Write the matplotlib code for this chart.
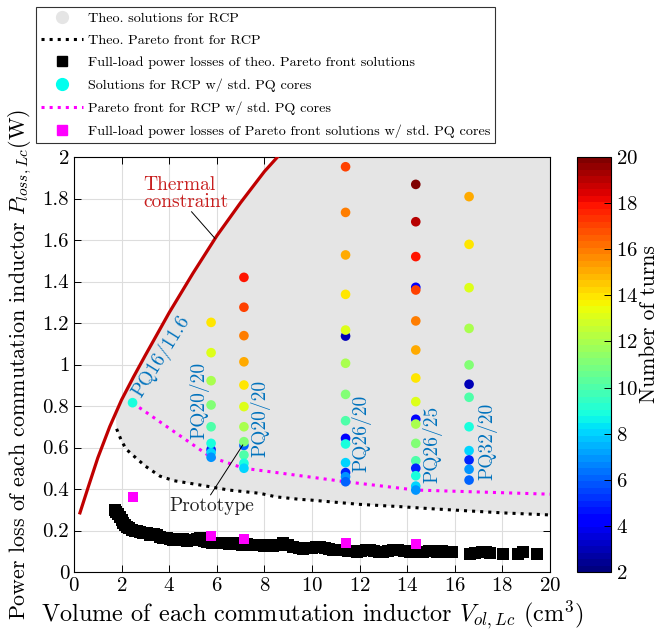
import numpy as np
import matplotlib
matplotlib.use('Agg')
import matplotlib.pyplot as plt
from matplotlib.lines import Line2D
from matplotlib.ticker import FuncFormatter

plt.rcParams['font.family'] = 'serif'
plt.rcParams['font.serif'] = ['cmr10']
plt.rcParams['mathtext.fontset'] = 'cm'
plt.rcParams['axes.formatter.use_mathtext'] = True

# thermal constraint (upper left limit)
thermal_vol = [0.25, 0.6, 1.0, 1.5, 2.0, 2.5, 3.0, 4.0, 5.0, 6.0, 7.0, 8.0, 8.55]
thermal_loss = [0.285, 0.41, 0.55, 0.70, 0.83, 0.94, 1.045, 1.25, 1.44, 1.62, 1.78, 1.93, 2.0]

# theoretical pareto front (lower edge of the solution cloud)
theo_front_vol = [1.79, 2.0, 2.21, 2.6, 3.0, 3.61, 4.2, 5.0, 5.71, 6.5, 7.5, 7.82,
                  8.5, 9.5, 9.92, 11.0, 12.0, 13.7, 15.0, 16.5, 18.0, 20.0]
theo_front_loss = [0.69, 0.63, 0.59, 0.55, 0.51, 0.462, 0.44, 0.425, 0.411, 0.395, 0.383, 0.379,
                   0.362, 0.35, 0.347, 0.336, 0.326, 0.315, 0.305, 0.295, 0.285, 0.275]

# upper-left edge of the cloud of theoretical solutions
cloud_top_vol = [20.0, 20.0, 8.55, 8.0, 7.0, 6.0, 5.0, 4.0, 3.0, 2.5, 2.0, 1.75]
cloud_top_loss = [0.275, 2.0, 2.0, 1.93, 1.78, 1.62, 1.44, 1.25, 1.045, 0.94, 0.83, 0.76]

# full-load losses of the theoretical pareto front solutions
full_vol = [1.72, 1.76, 1.85, 1.93, 2.0, 2.07, 2.15, 2.21, 2.3, 2.42, 2.55, 2.65, 2.77, 2.9,
            3.05, 3.2, 3.35, 3.47, 3.6, 3.75, 3.9, 4.05, 4.17, 4.3, 4.45, 4.59, 4.75, 4.9,
            5.01, 5.15, 5.29, 5.45, 5.6, 5.8, 5.95, 6.13, 6.3, 6.5, 6.69, 6.85, 7.05, 7.25,
            7.45, 7.62, 7.82, 8.0, 8.2, 8.37, 8.55, 8.79, 9.0, 9.21, 9.45, 9.64, 9.78, 10.0,
            10.15, 10.34, 10.55, 10.7, 10.9, 11.1, 11.3, 11.5, 11.7, 11.88, 12.05, 12.25,
            12.44, 12.6, 12.8, 13.0, 13.2, 13.4, 13.63, 13.85, 14.12, 14.3, 14.5, 14.68,
            14.9, 15.05, 15.24, 15.45, 15.65, 15.87, 16.64, 16.85, 17.13, 17.3, 17.48,
            18.04, 18.67, 18.88, 19.47]
full_loss = [0.30, 0.29, 0.28, 0.267, 0.25, 0.235, 0.225, 0.218, 0.21, 0.202, 0.20, 0.196,
             0.194, 0.19, 0.186, 0.18, 0.182, 0.178, 0.17, 0.162, 0.165, 0.158, 0.154, 0.16,
             0.155, 0.157, 0.15, 0.152, 0.154, 0.158, 0.162, 0.15, 0.145, 0.142, 0.14, 0.138,
             0.142, 0.136, 0.138, 0.135, 0.132, 0.134, 0.13, 0.128, 0.13, 0.126, 0.128, 0.127,
             0.132, 0.138, 0.128, 0.122, 0.118, 0.112, 0.114, 0.118, 0.12, 0.122, 0.115, 0.11,
             0.106, 0.108, 0.104, 0.102, 0.10, 0.098, 0.102, 0.104, 0.106, 0.10, 0.097, 0.098,
             0.10, 0.104, 0.106, 0.10, 0.098, 0.10, 0.097, 0.098, 0.10, 0.102, 0.098, 0.10,
             0.098, 0.098, 0.087, 0.09, 0.098, 0.095, 0.09, 0.087, 0.087, 0.095, 0.087]

# solutions with standard PQ cores
pq_vol = ([2.46]
          + [5.76] * 9
          + [7.14] * 12
          + [11.41] * 15
          + [14.36] * 17
          + [16.6] * 12)
pq_loss = [0.816,
           1.203, 1.057, 0.922, 0.805, 0.70, 0.59, 0.62, 0.575, 0.553,
           1.42, 1.276, 1.139, 1.013, 0.901, 0.797, 0.70, 0.61, 0.628, 0.564, 0.524, 0.50,
           1.953, 1.733, 1.528, 1.338, 1.137, 1.166, 1.006, 0.856, 0.729, 0.644, 0.617, 0.527,
           0.479, 0.459, 0.435,
           1.868, 1.688, 1.52, 1.372, 1.359, 1.21, 1.07, 0.935, 0.821, 0.736, 0.713, 0.62,
           0.536, 0.50, 0.464, 0.414, 0.395,
           1.809, 1.579, 1.37, 1.174, 0.998, 0.905, 0.842, 0.70, 0.585, 0.54, 0.495, 0.443]
pq_turns = [9,
            14, 13, 12, 11, 10, 5, 9, 8, 7,
            18, 17, 16, 15, 14, 13, 12, 6, 11, 10, 9, 8,
            17, 16, 15, 14, 3, 13, 12, 11, 10, 4, 9, 8, 5, 7, 6,
            20, 19, 18, 4, 17, 16, 15, 14, 13, 4, 12, 11, 10, 5, 9, 8, 7,
            15, 14, 13, 12, 11, 3, 10, 9, 8, 5, 7, 6]

# pareto front with standard PQ cores and its full-load losses
pq_front_vol = [2.46, 5.76, 7.14, 11.41, 14.36, 20.0]
pq_front_loss = [0.815, 0.553, 0.50, 0.435, 0.395, 0.375]
pq_full_vol = [2.46, 5.76, 7.14, 11.41, 14.36]
pq_full_loss = [0.36, 0.173, 0.159, 0.141, 0.133]

core_names = ['PQ16/11.6', 'PQ20/20', 'PQ20/20', 'PQ26/20', 'PQ26/25', 'PQ32/20']
core_label_x = [2.65, 5.25, 7.84, 12.08, 15.06, 17.37]
core_label_y = [0.848, 0.64, 0.554, 0.48, 0.43, 0.443]
core_label_rot = [58, 90, 90, 90, 90, 90]

GRAY = '#e5e5e5'
PQ_BLUE = '#0072bd'
cmap = plt.get_cmap('jet', 64)

fig = plt.figure(figsize=(6.65, 6.35), dpi=100)
ax = fig.add_axes([74 / 665, 63 / 635, 476 / 665, 415 / 635])
cax = fig.add_axes([577 / 665, 63 / 635, 34 / 665, 415 / 635])

ax.fill(theo_front_vol + cloud_top_vol, theo_front_loss + cloud_top_loss,
        color=GRAY, lw=0, zorder=1)
ax.plot(theo_front_vol, theo_front_loss, ':', color='k', lw=2.2, zorder=2)
ax.plot(thermal_vol, thermal_loss, '-', color='#c00000', lw=2.3, zorder=3)
ax.plot(pq_front_vol, pq_front_loss, ':', color='#ff00ff', lw=2.2, zorder=3)
sc = ax.scatter(pq_vol, pq_loss, c=pq_turns, cmap=cmap, vmin=2, vmax=20,
                s=48, edgecolors='none', zorder=4)
ax.plot(full_vol, full_loss, 's', color='k', ms=8.8, mew=0, zorder=4)
ax.plot(pq_full_vol, pq_full_loss, 's', color='#ff00ff', ms=7.5, mew=0, zorder=5)

for name, lx, ly, rot in zip(core_names, core_label_x, core_label_y, core_label_rot):
    if rot == 90:
        ax.text(lx, ly, name, color=PQ_BLUE, fontsize=14, rotation=90,
                ha='center', va='bottom', zorder=6)
    else:
        ax.text(lx, ly, name, color=PQ_BLUE, fontsize=14, rotation=rot,
                rotation_mode='anchor', ha='left', va='center', zorder=6)

# annotations
ax.plot([4.94, 5.92], [1.736, 1.608], '-', color='k', lw=0.7, zorder=6)
ax.text(2.92, 1.824, 'Thermal\nconstraint', color='#c81e1e', fontsize=14,
        ha='left', va='center', multialignment='left', linespacing=0.95, zorder=6)
ax.plot([5.74, 7.09], [0.372, 0.612], '-', color='k', lw=0.7, zorder=6)
ax.text(5.77, 0.32, 'Prototype', color='#222222', fontsize=14,
        ha='center', va='center', zorder=6)

ax.set_xlim(0, 20)
ax.set_ylim(0, 2)
ax.set_xticks(np.arange(0, 21, 2))
ax.set_yticks(np.arange(0, 2.01, 0.2))
ax.yaxis.set_major_formatter(FuncFormatter(lambda v, p: '%g' % round(v, 2)))
ax.tick_params(direction='in', top=True, right=True, labelsize=15, length=5, width=0.7)
ax.grid(True, color='#dddddd', lw=0.8)
ax.set_axisbelow(True)
for sp in ax.spines.values():
    sp.set_linewidth(0.8)

ax.set_xlabel(r'Volume of each commutation inductor $V_{ol,Lc}$ (cm$^3$)', fontsize=17.5, labelpad=3)
ax.set_ylabel(r'Power loss of each commutation inductor $P_{loss,Lc}$(W)', fontsize=15.8, labelpad=6)

cbar = fig.colorbar(sc, cax=cax)
cbar.set_ticks(np.arange(2, 21, 2))
cbar.ax.tick_params(direction='in', labelsize=15, length=5, width=0.7)
cbar.outline.set_linewidth(0.8)
cbar.set_label('Number of turns', fontsize=15.5)
cbar.ax.yaxis.set_label_coords(1.85, 0.598)

handles = [
    Line2D([], [], ls='none', marker='o', color=GRAY, ms=8.5),
    Line2D([], [], ls=':', color='k', lw=2.2),
    Line2D([], [], ls='none', marker='s', color='k', ms=7),
    Line2D([], [], ls='none', marker='o', color='#00ffee', ms=8.5),
    Line2D([], [], ls=':', color='#ff00ff', lw=2.2),
    Line2D([], [], ls='none', marker='s', color='#ff00ff', ms=7),
]
labels = [
    'Theo. solutions for RCP',
    'Theo. Pareto front for RCP',
    'Full-load power losses of theo. Pareto front solutions',
    'Solutions for RCP w/ std. PQ cores',
    'Pareto front for RCP w/ std. PQ cores',
    'Full-load power losses of Pareto front solutions w/ std. PQ cores',
]
leg = fig.legend(handles, labels, loc='upper left', bbox_to_anchor=(36 / 665, 1 - 7 / 635),
                 fontsize=10.2, frameon=True, fancybox=False, edgecolor='k',
                 handlelength=3.0, handletextpad=0.3, labelspacing=0.66,
                 borderpad=0.35, borderaxespad=0)
leg.get_frame().set_linewidth(0.8)

plt.savefig('out.png', dpi=100)
